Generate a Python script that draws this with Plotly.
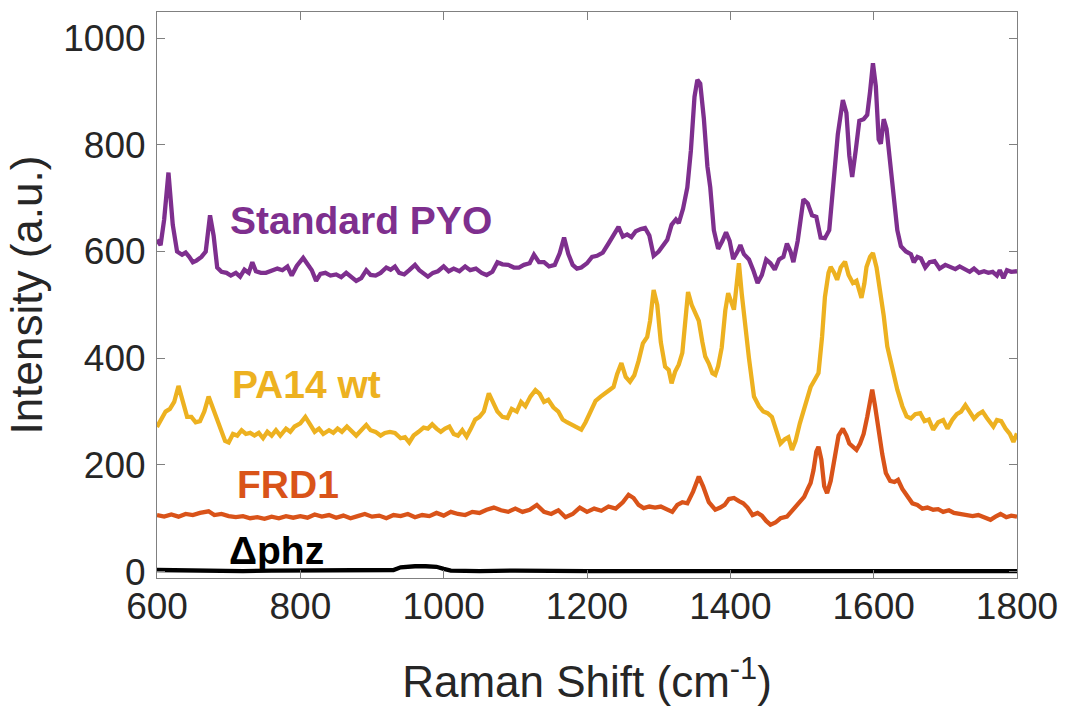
import plotly.graph_objects as go

# ---------------- data ----------------
pyo_x = [600,605,610,616,622,628,635,640,645,650,655,662,668,674,679,684,690,697,703,710,716,722,728,733,738,745,752,760,768,775,782,788,795,804,810,816,822,828,835,842,850,857,864,870,878,885,892,898,905,912,920,926,932,938,945,952,960,966,972,978,985,992,1000,1007,1014,1022,1030,1037,1045,1053,1060,1068,1075,1082,1090,1098,1105,1112,1120,1126,1133,1140,1147,1155,1162,1168,1174,1180,1186,1192,1200,1207,1214,1222,1230,1237,1244,1250,1256,1262,1268,1275,1281,1287,1293,1300,1306,1312,1318,1324,1328,1334,1340,1345,1350,1354,1358,1363,1368,1372,1377,1383,1389,1394,1399,1404,1410,1414,1419,1426,1432,1438,1444,1450,1456,1462,1468,1474,1479,1484,1488,1494,1502,1508,1514,1520,1526,1532,1538,1544,1550,1557,1562,1566,1570,1575,1580,1586,1591,1595,1599,1603,1607,1610,1614,1618,1623,1628,1633,1638,1645,1652,1656,1661,1666,1672,1678,1685,1692,1700,1707,1714,1720,1727,1734,1740,1747,1754,1760,1766,1772,1776,1781,1786,1792,1800]
pyo_y = [622,612,660,748,650,600,594,598,590,580,583,590,600,668,630,570,562,560,555,560,553,566,560,580,563,560,560,565,568,565,572,555,573,588,575,565,545,558,560,555,557,552,560,553,545,550,565,556,555,560,570,566,572,560,557,565,575,565,560,553,560,563,572,563,568,563,572,565,568,560,556,562,580,576,575,570,570,575,578,594,580,580,572,575,597,626,595,575,568,570,578,590,592,598,615,630,646,628,632,627,638,642,644,630,592,600,610,622,650,660,653,680,720,790,890,922,915,850,760,720,640,605,620,636,620,586,600,612,595,585,565,541,556,585,578,566,585,590,615,600,580,620,698,690,668,665,626,625,640,730,820,884,860,780,740,790,845,848,856,900,953,910,810,802,848,830,760,700,640,610,600,595,580,590,587,570,580,582,568,575,570,567,572,567,562,568,560,563,560,562,555,565,550,565,562,563]

pa14_x = [600,606,612,618,624,630,636,642,648,654,660,666,672,678,684,690,695,700,706,712,718,724,730,736,742,748,754,760,766,772,780,786,792,800,807,814,820,826,832,840,846,852,858,865,872,878,885,892,898,905,912,918,925,932,940,946,952,958,965,972,978,984,990,996,1002,1008,1014,1020,1026,1032,1038,1044,1050,1056,1063,1069,1075,1082,1089,1095,1102,1108,1114,1121,1128,1134,1140,1146,1153,1160,1166,1172,1180,1186,1192,1198,1205,1212,1219,1225,1231,1237,1242,1248,1254,1260,1266,1272,1278,1284,1288,1293,1298,1303,1309,1314,1318,1323,1328,1333,1337,1341,1346,1351,1356,1361,1365,1370,1375,1379,1383,1388,1393,1397,1401,1405,1409,1412,1416,1421,1426,1433,1440,1446,1452,1458,1464,1470,1476,1481,1486,1491,1497,1504,1512,1518,1523,1528,1532,1537,1540,1545,1549,1554,1560,1565,1571,1576,1580,1583,1587,1590,1595,1599,1604,1609,1614,1619,1626,1633,1640,1646,1652,1658,1665,1671,1677,1683,1690,1697,1703,1710,1716,1722,1728,1734,1740,1746,1752,1758,1763,1767,1772,1778,1784,1790,1795,1800]
pa14_y = [271,285,300,305,318,348,320,290,290,280,282,300,328,305,285,265,245,242,258,255,265,258,260,255,260,250,262,255,265,255,268,262,272,278,290,275,262,268,258,265,260,268,262,272,262,255,265,275,265,262,255,260,262,260,250,252,242,255,262,270,268,276,268,262,268,272,258,255,265,253,268,285,290,300,334,318,300,290,288,305,300,318,310,328,340,333,318,322,308,300,285,280,275,270,266,280,300,320,328,335,340,346,370,391,365,356,368,395,428,440,470,528,500,430,384,378,353,375,388,410,460,524,500,484,470,430,403,390,372,369,385,420,490,522,505,491,540,578,520,453,400,328,310,300,297,290,265,240,248,252,228,245,278,310,346,360,372,440,515,560,571,560,547,570,581,556,541,545,525,513,540,571,590,597,570,528,480,422,380,341,310,291,287,295,297,282,285,266,280,284,268,285,295,300,312,298,287,295,300,288,280,272,284,282,268,258,243,259]

frd1_x = [600,610,620,630,640,650,660,672,680,690,700,710,720,730,740,750,760,770,780,790,800,810,820,830,840,850,860,870,880,890,900,910,920,930,940,950,960,970,980,990,1000,1010,1020,1030,1040,1050,1060,1070,1080,1090,1100,1110,1120,1130,1140,1150,1160,1170,1180,1190,1200,1210,1220,1230,1240,1250,1258,1265,1272,1279,1287,1295,1303,1311,1319,1326,1333,1340,1348,1356,1362,1370,1379,1386,1392,1398,1405,1412,1418,1424,1431,1438,1444,1450,1456,1463,1470,1479,1485,1491,1497,1503,1508,1512,1516,1520,1523,1527,1531,1535,1540,1546,1551,1557,1562,1566,1571,1576,1581,1586,1591,1595,1598,1602,1607,1612,1617,1623,1629,1634,1640,1647,1654,1661,1668,1675,1683,1690,1697,1705,1712,1720,1730,1738,1746,1755,1763,1770,1777,1785,1792,1800]
frd1_y = [106,103,107,103,108,106,110,113,106,108,104,102,104,100,102,99,103,100,104,101,104,101,107,103,106,101,105,100,104,108,103,105,100,106,104,108,102,106,104,110,105,112,108,106,112,110,116,120,115,112,118,112,116,125,112,108,115,102,108,120,112,118,114,122,118,130,144,138,125,119,122,120,122,116,112,125,130,128,150,178,160,130,116,120,125,136,138,132,128,120,106,110,105,95,88,92,100,103,112,120,131,140,155,166,190,225,234,210,160,147,170,220,255,268,255,240,235,228,240,258,290,320,341,310,260,220,185,170,168,172,155,140,128,125,118,120,116,117,112,115,110,108,106,104,106,101,97,103,108,102,105,103]

phz_x = [600,640,680,720,760,800,840,880,910,930,940,950,960,975,990,1000,1010,1050,1100,1200,1300,1400,1500,1600,1700,1800]
phz_y = [3,2,3,1,2,2,1,2,2,3,8,10,10,10,9,5,2,1,2,1,1,1,1,1,1,1]

series_names = ["Standard PYO", "PA14 wt", "FRD1", "\u0394phz"]
series_colors = ["#7E2F8E", "#EDB120", "#D95319", "#000000"]
label_x = [699, 702, 709, 697]
label_y = [658, 350, 164, 40]

x_ticks = [600, 800, 1000, 1200, 1400, 1600, 1800]
y_ticks = [0, 200, 400, 600, 800, 1000]

# ---------------- figure ----------------
fig = go.Figure()
data = [(pyo_x, pyo_y), (pa14_x, pa14_y), (frd1_x, frd1_y), (phz_x, phz_y)]
for (xs, ys), name, col in zip(data, series_names, series_colors):
    fig.add_trace(go.Scatter(x=xs, y=ys, mode="lines", name=name,
                             line=dict(color=col, width=4.3), showlegend=False))

for name, col, lx, ly in zip(series_names, series_colors, label_x, label_y):
    fig.add_annotation(x=lx, y=ly, text="<b>%s</b>" % name, showarrow=False,
                       xanchor="left", yanchor="middle",
                       font=dict(family="Liberation Sans, Arial", size=39, color=col))

axis_font = dict(family="Liberation Sans, Arial", size=37, color="#262626")
fig.update_xaxes(range=[600, 1800], tickvals=x_ticks, ticks="inside", ticklen=8,
                 tickcolor="#808080", showline=True, linecolor="#808080", linewidth=1,
                 mirror="ticks", showgrid=False, zeroline=False, tickfont=axis_font,
                 ticklabelstandoff=-4, automargin=False,
                 title=dict(text="Raman Shift (cm<sup>-1</sup>)", standoff=41,
                            font=dict(family="Liberation Sans, Arial", size=44, color="#262626")))
fig.update_yaxes(range=[-12, 1049], tickvals=y_ticks, ticks="inside", ticklen=8,
                 tickcolor="#808080", showline=True, linecolor="#808080", linewidth=1,
                 mirror="ticks", showgrid=False, zeroline=False, tickfont=axis_font,
                 ticklabelstandoff=3, automargin=False,
                 title=dict(text="Intensity (a.u.)", standoff=6,
                            font=dict(family="Liberation Sans, Arial", size=44, color="#262626")))
fig.update_layout(width=1068, height=706, plot_bgcolor="white", paper_bgcolor="white",
                  margin=dict(l=157, r=51, t=12, b=128))
fig.write_html("out.html")
